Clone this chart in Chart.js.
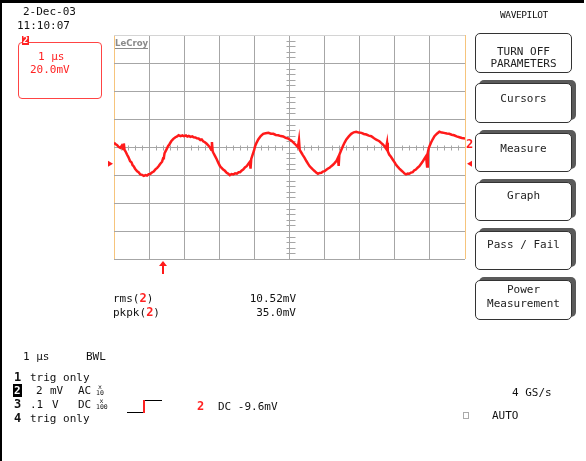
<!DOCTYPE html>
<html>
<head>
<meta charset="utf-8">
<script src="https://cdn.jsdelivr.net/npm/chart.js@4"></script>
<style>
  html, body { margin: 0; padding: 0; background: #fff; }
  body { width: 586px; height: 461px; position: relative; overflow: hidden;
         font-family: "DejaVu Sans Mono", monospace; font-size: 11px; color: #111; }
  #frame { position: absolute; left: 0; top: 0; width: 584px; height: 461px;
           border-top: 3px solid #000; border-left: 2px solid #000; box-sizing: border-box; }
  #scope { position: absolute; left: 0; top: 0; }
  .t { position: absolute; white-space: pre; line-height: 13px; }
  .red { color: #f22; }
  .b { font-weight: bold; }
  .btn { position: absolute; left: 475px; width: 97px; border: 1px solid #333; border-radius: 5px;
         background: #fff; box-sizing: border-box; }
  .btn.sh { box-shadow: 4px -3px 0 0 #5a5a5a; }
  .bt { position: absolute; left: 475px; width: 97px; text-align: center; white-space: pre; line-height: 13px; color: #222; }
  .inv { background: #000; color: #fff; padding: 0 1px; }
  .frac { position: absolute; font-size: 6.5px; line-height: 6px; text-align: center; }
</style>
</head>
<body>
<canvas id="scope" width="586" height="461"></canvas>
<div id="frame"></div>

<div class="t" style="left:23px; top:5px;">2-Dec-03</div>
<div class="t" style="left:17px; top:19px;">11:10:07</div>

<div style="position:absolute; left:18px; top:42px; width:84px; height:57px; border:1px solid #f44; border-radius:4px; box-sizing:border-box;"></div>
<div style="position:absolute; left:22px; top:36px; width:7px; height:9px; background:#f22; color:#fff; font-size:9px; line-height:9px; font-weight:bold; text-align:center;">2</div>
<div class="t red" style="left:38px; top:50px;">1 µs</div>
<div class="t red" style="left:30px; top:63px;">20.0mV</div>

<div class="t" style="left:115px; top:37px; font-family:'DejaVu Sans Condensed', sans-serif; font-weight:bold; font-size:9.5px; color:#8a8a8a; border-bottom:1px solid #8a8a8a; line-height:11px;">LeCroy</div>

<div class="t" style="left:500px; top:8px; font-size:9.5px; letter-spacing:-0.4px;">WAVEPILOT</div>

<div class="btn" style="top:33px; height:40px;"></div>
<div class="bt" style="top:45px;">TURN OFF</div>
<div class="bt" style="top:57px;">PARAMETERS</div>

<div class="btn sh" style="top:83px; height:40px;"></div>
<div class="bt" style="top:92px;">Cursors</div>

<div class="btn sh" style="top:133px; height:39px;"></div>
<div class="bt" style="top:142px;">Measure</div>

<div class="btn sh" style="top:182px; height:39px;"></div>
<div class="bt" style="top:189px;">Graph</div>

<div class="btn sh" style="top:231px; height:39px;"></div>
<div class="bt" style="top:238px;">Pass / Fail</div>

<div class="btn sh" style="top:280px; height:40px;"></div>
<div class="bt" style="top:283px;">Power</div>
<div class="bt" style="top:297px;">Measurement</div>

<div class="t" style="left:113px; top:292px;">rms(<span class="red b" style="font-size:12px;">2</span>)</div>
<div class="t" style="left:113px; top:306px;">pkpk(<span class="red b" style="font-size:12px;">2</span>)</div>
<div class="t" style="left:230px; width:66px; text-align:right; top:292px;">10.52mV</div>
<div class="t" style="left:230px; width:66px; text-align:right; top:306px;">35.0mV</div>

<div class="t" style="left:23px; top:350px;">1 µs</div>
<div class="t" style="left:86px; top:350px;">BWL</div>

<div class="t b" style="left:14px; top:371px; font-size:12px;">1</div>
<div class="t" style="left:30px; top:371px;">trig only</div>

<div class="t b" style="left:13px; top:384px; font-size:11px;"><span class="inv">2</span></div>
<div class="t" style="left:36px; top:384px;">2</div>
<div class="t" style="left:50px; top:384px;">mV</div>
<div class="t" style="left:78px; top:384px;">AC</div>
<div class="frac" style="left:96px; top:384px; width:8px;">x<br>10</div>

<div class="t b" style="left:14px; top:398px; font-size:12px;">3</div>
<div class="t" style="left:30px; top:398px;">.1</div>
<div class="t" style="left:52px; top:398px;">V</div>
<div class="t" style="left:78px; top:398px;">DC</div>
<div class="frac" style="left:96px; top:398px; width:11px;">x<br>100</div>

<div class="t b" style="left:14px; top:412px; font-size:12px;">4</div>
<div class="t" style="left:30px; top:412px;">trig only</div>

<div style="position:absolute; left:127px; top:412px; width:17px; height:1px; background:#000;"></div>
<div style="position:absolute; left:143px; top:400px; width:2px; height:13px; background:#f22;"></div>
<div style="position:absolute; left:145px; top:400px; width:17px; height:1px; background:#000;"></div>
<div class="t red b" style="left:197px; top:400px; font-size:12px;">2</div>
<div class="t" style="left:218px; top:400px;">DC -9.6mV</div>

<div class="t" style="left:512px; top:386px;">4 GS/s</div>
<div style="position:absolute; left:463px; top:412px; width:6px; height:7px; border:1px solid #aaa; box-sizing:border-box;"></div>
<div class="t" style="left:492px; top:409px;">AUTO</div>

<script>
// channel 2 trace: time in µs, voltage in mV
const traceTime = [
  0.00, 0.05, 0.09, 0.13, 0.18, 0.22, 0.26, 0.28, 0.30, 0.33, 0.37, 0.41, 0.46, 0.50, 0.53, 0.56,
  0.60, 0.66, 0.70, 0.75, 0.80, 0.85, 0.90, 0.94, 0.99, 1.03, 1.08, 1.13, 1.18, 1.23, 1.27, 1.32,
  1.37, 1.40, 1.42, 1.44, 1.46, 1.50, 1.54, 1.58, 1.63, 1.69, 1.75, 1.80, 1.84, 1.90, 1.95, 1.99,
  2.05, 2.09, 2.13, 2.18, 2.23, 2.27, 2.32, 2.36, 2.41, 2.46, 2.50, 2.54, 2.59, 2.64, 2.69, 2.74,
  2.77, 2.79, 2.81, 2.83, 2.88, 2.93, 2.97, 3.02, 3.06, 3.11, 3.16, 3.21, 3.25, 3.30, 3.35, 3.40,
  3.45, 3.50, 3.55, 3.59, 3.64, 3.68, 3.73, 3.78, 3.83, 3.87, 3.89, 3.91, 3.95, 3.99, 4.02, 4.06,
  4.11, 4.18, 4.25, 4.32, 4.40, 4.47, 4.54, 4.61, 4.68, 4.75, 4.82, 4.89, 4.96, 5.00, 5.05, 5.10,
  5.15, 5.20, 5.24, 5.27, 5.29, 5.34, 5.38, 5.43, 5.48, 5.53, 5.57, 5.62, 5.67, 5.72, 5.76, 5.81,
  5.86, 5.91, 5.95, 6.00, 6.05, 6.10, 6.15, 6.19, 6.24, 6.29, 6.34, 6.38, 6.40, 6.42, 6.46, 6.52,
  6.57, 6.62, 6.69, 6.76, 6.83, 6.90, 6.97, 7.05, 7.12, 7.19, 7.26, 7.33, 7.40, 7.46, 7.51, 7.56,
  7.61, 7.66, 7.71, 7.75, 7.78, 7.80, 7.84, 7.89, 7.94, 7.99, 8.03, 8.08, 8.13, 8.18, 8.23, 8.27,
  8.32, 8.37, 8.41, 8.46, 8.51, 8.55, 8.60, 8.65, 8.70, 8.75, 8.79, 8.84, 8.89, 8.92, 8.94, 8.97,
  9.00, 9.03, 9.08, 9.13, 9.20, 9.27, 9.34, 9.40, 9.48, 9.55, 9.62, 9.69, 9.76, 9.84, 9.91, 10.00
];
const traceVolt = [
  3.0, 2.0, 1.3, 0.2, -0.6, 0.8, -1.5, 2.5, -2.0, -3.2, -5.4, -7.2, -10.1, -11.0, -13.0, -13.7,
  -15.5, -17.3, -18.0, -19.6, -19.9, -20.6, -20.0, -20.4, -19.4, -19.3, -18.2, -17.5, -16.0, -14.9, -13.8, -12.0,
  -10.5, -8.0, -7.7, -4.5, -3.5, -1.5, 0.6, 2.0, 4.1, 5.8, 7.0, 7.6, 8.4, 7.8, 8.3, 7.7,
  8.2, 7.4, 7.9, 7.2, 7.6, 6.9, 6.8, 6.2, 6.1, 5.0, 5.4, 4.1, 3.4, 2.3, 1.0, -0.6,
  -2.0, 3.5, -3.0, -4.1, -6.5, -8.9, -11.2, -13.7, -14.8, -16.1, -17.0, -18.4, -19.0, -20.1, -19.3, -19.6,
  -18.8, -19.1, -18.0, -18.0, -16.8, -16.1, -14.6, -13.7, -12.0, -10.6, -15.5, -8.5, -5.4, -2.5, 0.6, 3.0,
  5.4, 7.8, 9.4, 9.8, 10.1, 9.5, 9.4, 8.6, 8.4, 7.8, 7.5, 6.5, 6.1, 5.3, 4.6, 3.5,
  2.3, 0.9, -0.1, 5.0, -2.0, -4.1, -5.8, -7.7, -10.0, -12.0, -13.6, -14.9, -16.2, -17.3, -18.3, -19.1,
  -18.5, -18.4, -17.6, -17.3, -16.3, -15.4, -14.6, -13.7, -12.7, -11.3, -9.8, -7.7, -13.5, -5.5, -3.0, 0.6,
  3.2, 5.4, 7.6, 9.4, 10.5, 10.9, 10.3, 10.1, 9.3, 8.9, 8.1, 7.7, 6.4, 5.4, 4.8, 4.1,
  2.9, 1.8, 0.4, -1.1, 3.0, -3.0, -5.4, -7.0, -8.9, -10.8, -12.5, -14.0, -15.4, -16.6, -17.7, -18.8,
  -19.6, -19.0, -19.1, -18.3, -18.0, -16.8, -16.1, -14.8, -13.7, -12.0, -10.6, -8.5, -6.6, -14.0, -4.0, -0.6,
  1.2, 3.0, 5.5, 7.7, 9.5, 10.9, 10.3, 10.1, 9.6, 9.4, 8.8, 8.4, 7.6, 7.0, 6.4, 6.1
];

// screen settings: 10 x 1 µs, 8 x 20 mV
const timeRange = [0, 10];
const timePerDiv = 1;
const voltRange = [-80, 80];
const voltPerDiv = 20;
const triggerTime = 1.37;    // µs, arrow under the grid
const levelMarker = -12;     // mV, side arrows

const gridGray = '#a6a6a6';
const edgeOrange = '#f6c47c';
const traceRed = '#ff1a1a';

const crossTicks = {
  id: 'crossTicks',
  beforeDatasetsDraw(chart) {
    const { ctx, scales: { x, y } } = chart;
    const cx = Math.round(x.getPixelForValue((timeRange[0] + timeRange[1]) / 2)) + 0.5;
    const cy = Math.round(y.getPixelForValue(0)) + 0.5;
    ctx.save();
    ctx.strokeStyle = gridGray;
    ctx.lineWidth = 1;
    ctx.beginPath();
    for (let i = 0; i <= 40; i++) {
      if (i % 5 === 0) continue;
      const py = Math.round(y.getPixelForValue(voltRange[0] + i * voltPerDiv / 5)) + 0.5;
      ctx.moveTo(cx - 4, py); ctx.lineTo(cx + 5, py);
    }
    for (let i = 0; i <= 50; i++) {
      if (i % 5 === 0) continue;
      const px = Math.round(x.getPixelForValue(timeRange[0] + i * timePerDiv / 5)) + 0.5;
      ctx.moveTo(px, cy - 2); ctx.lineTo(px, cy + 3);
    }
    ctx.stroke();
    ctx.restore();
  },
  afterDraw(chart) {
    const { ctx, scales: { x, y } } = chart;
    ctx.save();
    ctx.fillStyle = traceRed;
    ctx.strokeStyle = traceRed;
    const ly = y.getPixelForValue(levelMarker);
    ctx.beginPath();
    ctx.moveTo(x.left - 1, ly); ctx.lineTo(x.left - 6, ly - 3); ctx.lineTo(x.left - 6, ly + 3);
    ctx.closePath(); ctx.fill();
    ctx.beginPath();
    ctx.moveTo(x.right + 2, ly); ctx.lineTo(x.right + 7, ly - 3); ctx.lineTo(x.right + 7, ly + 3);
    ctx.closePath(); ctx.fill();
    // channel label at ground level
    ctx.font = 'bold 12px "DejaVu Sans Mono"';
    ctx.textBaseline = 'alphabetic';
    ctx.fillText('2', x.right + 1, y.getPixelForValue(0) + 0.5);
    // trigger position arrow
    const tx = Math.round(x.getPixelForValue(triggerTime));
    const by = y.bottom + 2;
    ctx.fillRect(tx, by + 3, 2, 10);
    ctx.beginPath();
    ctx.moveTo(tx + 1, by); ctx.lineTo(tx - 3, by + 5); ctx.lineTo(tx + 5, by + 5);
    ctx.closePath(); ctx.fill();
    ctx.restore();
  }
};

new Chart(document.getElementById('scope').getContext('2d'), {
  type: 'line',
  data: {
    datasets: [{
      label: 'C2',
      data: traceTime.map((t, i) => ({ x: t, y: traceVolt[i] })),
      borderColor: traceRed,
      borderWidth: 2.5,
      pointRadius: 0,
      tension: 0,
      fill: false
    }]
  },
  options: {
    responsive: false,
    animation: false,
    devicePixelRatio: 1,
    layout: { padding: { left: 114, top: 35, right: 121, bottom: 202 } },
    plugins: { legend: { display: false }, tooltip: { enabled: false } },
    scales: {
      x: {
        type: 'linear',
        min: timeRange[0],
        max: timeRange[1],
        ticks: { display: false, stepSize: timePerDiv },
        grid: {
          drawTicks: false,
          lineWidth: 1,
          color: c => (c.tick && (c.tick.value === timeRange[0] || c.tick.value === timeRange[1])) ? edgeOrange : gridGray
        },
        border: { display: false },
        afterFit: s => { s.height = 0; }
      },
      y: {
        type: 'linear',
        min: voltRange[0],
        max: voltRange[1],
        ticks: { display: false, stepSize: voltPerDiv },
        grid: {
          drawTicks: false,
          lineWidth: 1,
          color: c => (c.tick && c.tick.value === voltRange[1]) ? '#d4d4d4' : gridGray
        },
        border: { display: false },
        afterFit: s => { s.width = 0; }
      }
    }
  },
  plugins: [crossTicks]
});
</script>
</body>
</html>
